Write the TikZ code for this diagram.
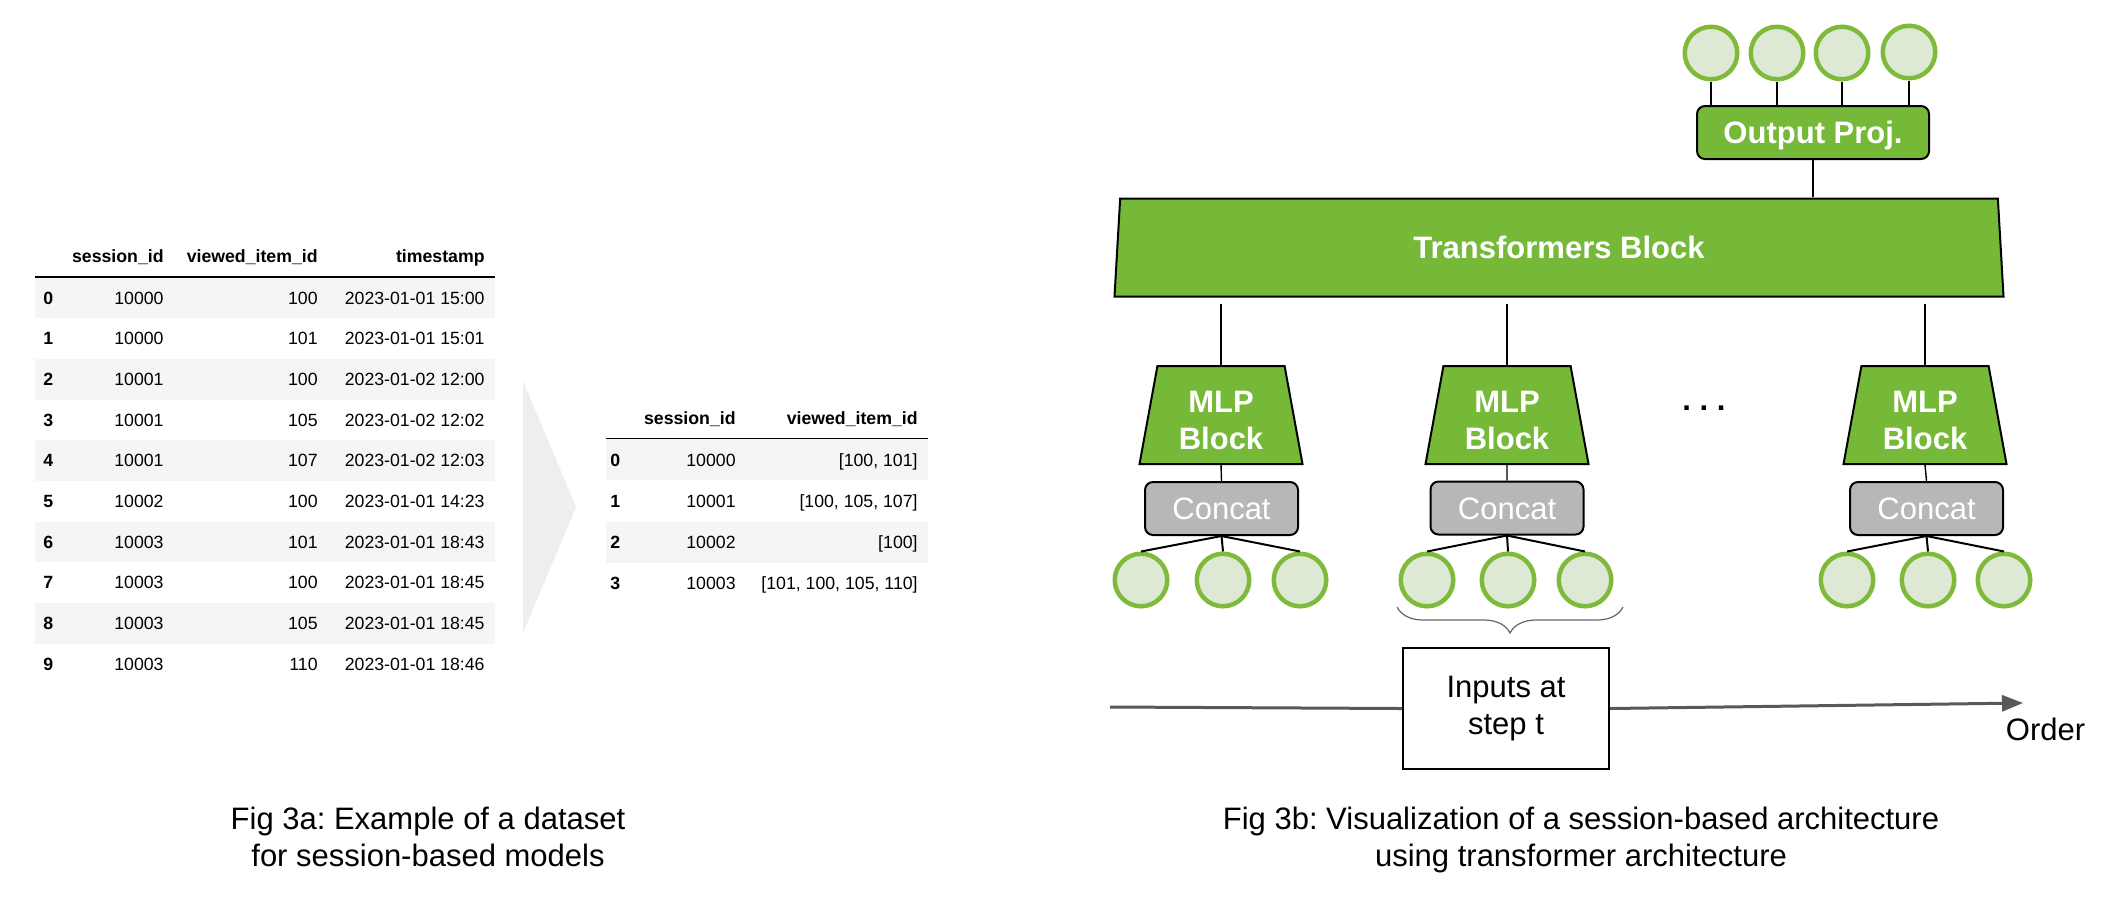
\documentclass[tikz,border=0pt]{standalone}
\usepackage{fontspec}
\setmainfont{Liberation Sans}
\usetikzlibrary{shapes.geometric,arrows.meta,decorations.pathreplacing,calc}

\definecolor{nvgreen}{RGB}{118,185,56}
\definecolor{ringgreen}{RGB}{128,186,58}
\definecolor{ringfill}{RGB}{221,233,213}
\definecolor{concatgray}{RGB}{183,183,183}
\definecolor{rowgray}{RGB}{245,245,245}
\definecolor{chevgray}{RGB}{238,238,238}
\definecolor{axisgray}{RGB}{89,89,89}
\definecolor{bracegray}{RGB}{102,102,102}

\newcommand{\tabfont}{\fontsize{8.85}{10.6}\selectfont}
\newcommand{\bigfont}{\fontsize{15.5}{18.5}\selectfont}
\frenchspacing

\begin{document}
\begin{tikzpicture}[x=0.5pt,y=-0.5pt,
  tcell/.style={inner sep=0pt, anchor=base east, font=\tabfont},
  tidx/.style={inner sep=0pt, anchor=base west, font=\tabfont\bfseries},
  thead/.style={inner sep=0pt, anchor=base east, font=\tabfont\bfseries},
  ring/.style={circle, draw=ringgreen, fill=ringfill, line width=2.25pt, minimum size=26.25pt, inner sep=0pt},
  greenbox/.style={rectangle, rounded corners=4pt, draw=black, line width=1pt, fill=nvgreen, text=white, font=\bigfont\bfseries, minimum width=116pt, minimum height=26.5pt, inner sep=0pt, text height=11.1pt, text depth=0pt},
  concatbox/.style={rectangle, rounded corners=4pt, draw=black, line width=1pt, fill=concatgray, text=white, font=\bigfont, minimum width=76.5pt, minimum height=26.5pt, inner sep=0pt, text height=11.1pt, text depth=0pt},
  mlpblock/.style={trapezium, trapezium angle=75.7, trapezium stretches body=true, minimum width=81.5pt, minimum height=49pt, draw=black, line width=1pt, fill=nvgreen, text=white, font=\bigfont\bfseries, align=center, inner sep=0pt},
  tblock/.style={trapezium, trapezium angle=75.7, trapezium stretches body=true, minimum width=444.5pt, minimum height=49pt, draw=black, line width=1pt, fill=nvgreen, text=white, font=\bigfont\bfseries, inner sep=0pt, text height=11.1pt, text depth=0pt},
  inbox/.style={rectangle, draw=black, line width=1pt, minimum width=103pt, minimum height=60.5pt, font=\bigfont, align=center, inner sep=0pt},
  thinline/.style={line width=0.7pt},
  fork/.style={line width=1pt},
  plaintext/.style={inner sep=0pt, font=\bigfont}
]
\useasboundingbox (0,0) rectangle (2112,912);
\fill[white] (0,0) rectangle (2112,912);

% ---------- Fig 3a: first table ----------
\foreach \k in {0,2,4,6,8}
  \fill[rowgray] (35,{277.7+40.65*\k}) rectangle (495,{277.7+40.65*(\k+1)});
\draw[line width=0.8pt] (35,276.8) -- (495,276.8);
\node[thead] (ha1) at (164,262) {session\_id};
\node[thead] (ha2) at (318,262) {viewed\_item\_id};
\node[thead] (ha3) at (485,262) {timestamp};
\foreach \i/\s/\v/\t in {0/10000/100/{2023-01-01 15:00},1/10000/101/{2023-01-01 15:01},2/10001/100/{2023-01-02 12:00},3/10001/105/{2023-01-02 12:02},4/10001/107/{2023-01-02 12:03},5/10002/100/{2023-01-01 14:23},6/10003/101/{2023-01-01 18:43},7/10003/100/{2023-01-01 18:45},8/10003/105/{2023-01-01 18:45},9/10003/110/{2023-01-01 18:46}}{
  \node[tidx] (ta\i-0) at (43,{304.3+40.65*\i}) {\i};
  \node[tcell] (ta\i-1) at (164,{304.3+40.65*\i}) {\s};
  \node[tcell] (ta\i-2) at (318,{304.3+40.65*\i}) {\v};
  \node[tcell] (ta\i-3) at (485,{304.3+40.65*\i}) {\t};
}

% ---------- chevron ----------
\fill[chevgray] (523,381) -- (576,507) -- (523,633) -- cycle;

% ---------- second table ----------
\fill[rowgray] (606,439) rectangle (928,480);
\fill[rowgray] (606,521.7) rectangle (928,562.7);
\draw[line width=0.8pt] (606,438.3) -- (928,438.3);
\node[thead] (hb1) at (736,424) {session\_id};
\node[thead] (hb2) at (918,424) {viewed\_item\_id};
\node[tidx] (tb0-0) at (610,466.6) {0};
\node[tcell] (tb0-1) at (736,466.6) {10000};
\node[tcell] (tb0-2) at (918,466.6) {[100, 101]};
\node[tidx] (tb1-0) at (610,507.6) {1};
\node[tcell] (tb1-1) at (736,507.6) {10001};
\node[tcell] (tb1-2) at (918,507.6) {[100, 105, 107]};
\node[tidx] (tb2-0) at (610,548.6) {2};
\node[tcell] (tb2-1) at (736,548.6) {10002};
\node[tcell] (tb2-2) at (918,548.6) {[100]};
\node[tidx] (tb3-0) at (610,589.6) {3};
\node[tcell] (tb3-1) at (736,589.6) {10003};
\node[tcell] (tb3-2) at (918,589.6) {[101, 100, 105, 110]};

\node[plaintext, align=center] (capa) at (428,836.5) {Fig 3a: Example of a dataset\\for session-based models};

% ---------- Fig 3b ----------
\node[ring] (o1) at (1711,53) {};
\node[ring] (o2) at (1777,53) {};
\node[ring] (o3) at (1842,53) {};
\node[ring] (o4) at (1909,52) {};
\node[greenbox] (op) at (1813,132.5) {Output Proj.};
\foreach \n in {o1,o2,o3,o4}
  \draw[thinline] (\n.south) -- (\n.south |- op.north);

\node[tblock] (tb) at (1559,247.5) {Transformers Block};
\draw[thinline] (op.south) -- (op.south |- tb.north);

\node[mlpblock] (m1) at (1221,415) {\rule{0pt}{16.5pt}MLP\\Block};
\node[mlpblock] (m2) at (1507,415) {\rule{0pt}{16.5pt}MLP\\Block};
\node[mlpblock] (m3) at (1925,415) {\rule{0pt}{16.5pt}MLP\\Block};
\foreach \n in {m1,m2,m3}
  \draw[thinline] ($(\n.north |- tb.south)+(0,6)$) -- (\n.north);

\node[plaintext, font=\bigfont\bfseries, anchor=base] (dots) at (1704,410) {. . .};

\node[concatbox] (c1) at (1221.5,508.5) {Concat};
\node[concatbox] (c2) at (1507,508) {Concat};
\node[concatbox] (c3) at (1926.5,508.5) {Concat};
\draw[thinline] (m1.south) -- (c1.north);
\draw[thinline] (m2.south) -- (c2.north);
\draw[thinline] (m3.south) -- (c3.north);

\node[ring] (i11) at (1141,580) {};
\node[ring] (i12) at (1223,580) {};
\node[ring] (i13) at (1300,580) {};
\node[ring] (i21) at (1427,580) {};
\node[ring] (i22) at (1508,580) {};
\node[ring] (i23) at (1585,580) {};
\node[ring] (i31) at (1847,580) {};
\node[ring] (i32) at (1928,580) {};
\node[ring] (i33) at (2004,580) {};
\foreach \g in {1,2,3}
  \foreach \j in {1,2,3}
    \draw[fork] (c\g.south) -- (i\g\j.north);

\coordinate (br1) at (1397,607);
\coordinate (br2) at (1623,607);
\draw[bracegray, line width=0.6pt, decorate, decoration={brace, mirror, amplitude=13pt}] (br1) -- (br2);

\node[inbox] (inp) at (1506,708.5) {Inputs at\\step t};
\coordinate (ax0) at (1110,707);
\coordinate (ax1) at (2023,703);
\draw[axisgray, line width=1.5pt] (ax0) -- (inp.west);
\draw[axisgray, line width=1.5pt, -{Triangle[length=10.5pt,width=8pt]}] (inp.east) -- (ax1);
\node[plaintext, anchor=base] (ord) at (2045.5,740) {Order};

\node[plaintext, align=center] (capb) at (1581,840) {Fig 3b: Visualization of a session-based architecture\\using transformer architecture};
\end{tikzpicture}
\end{document}
